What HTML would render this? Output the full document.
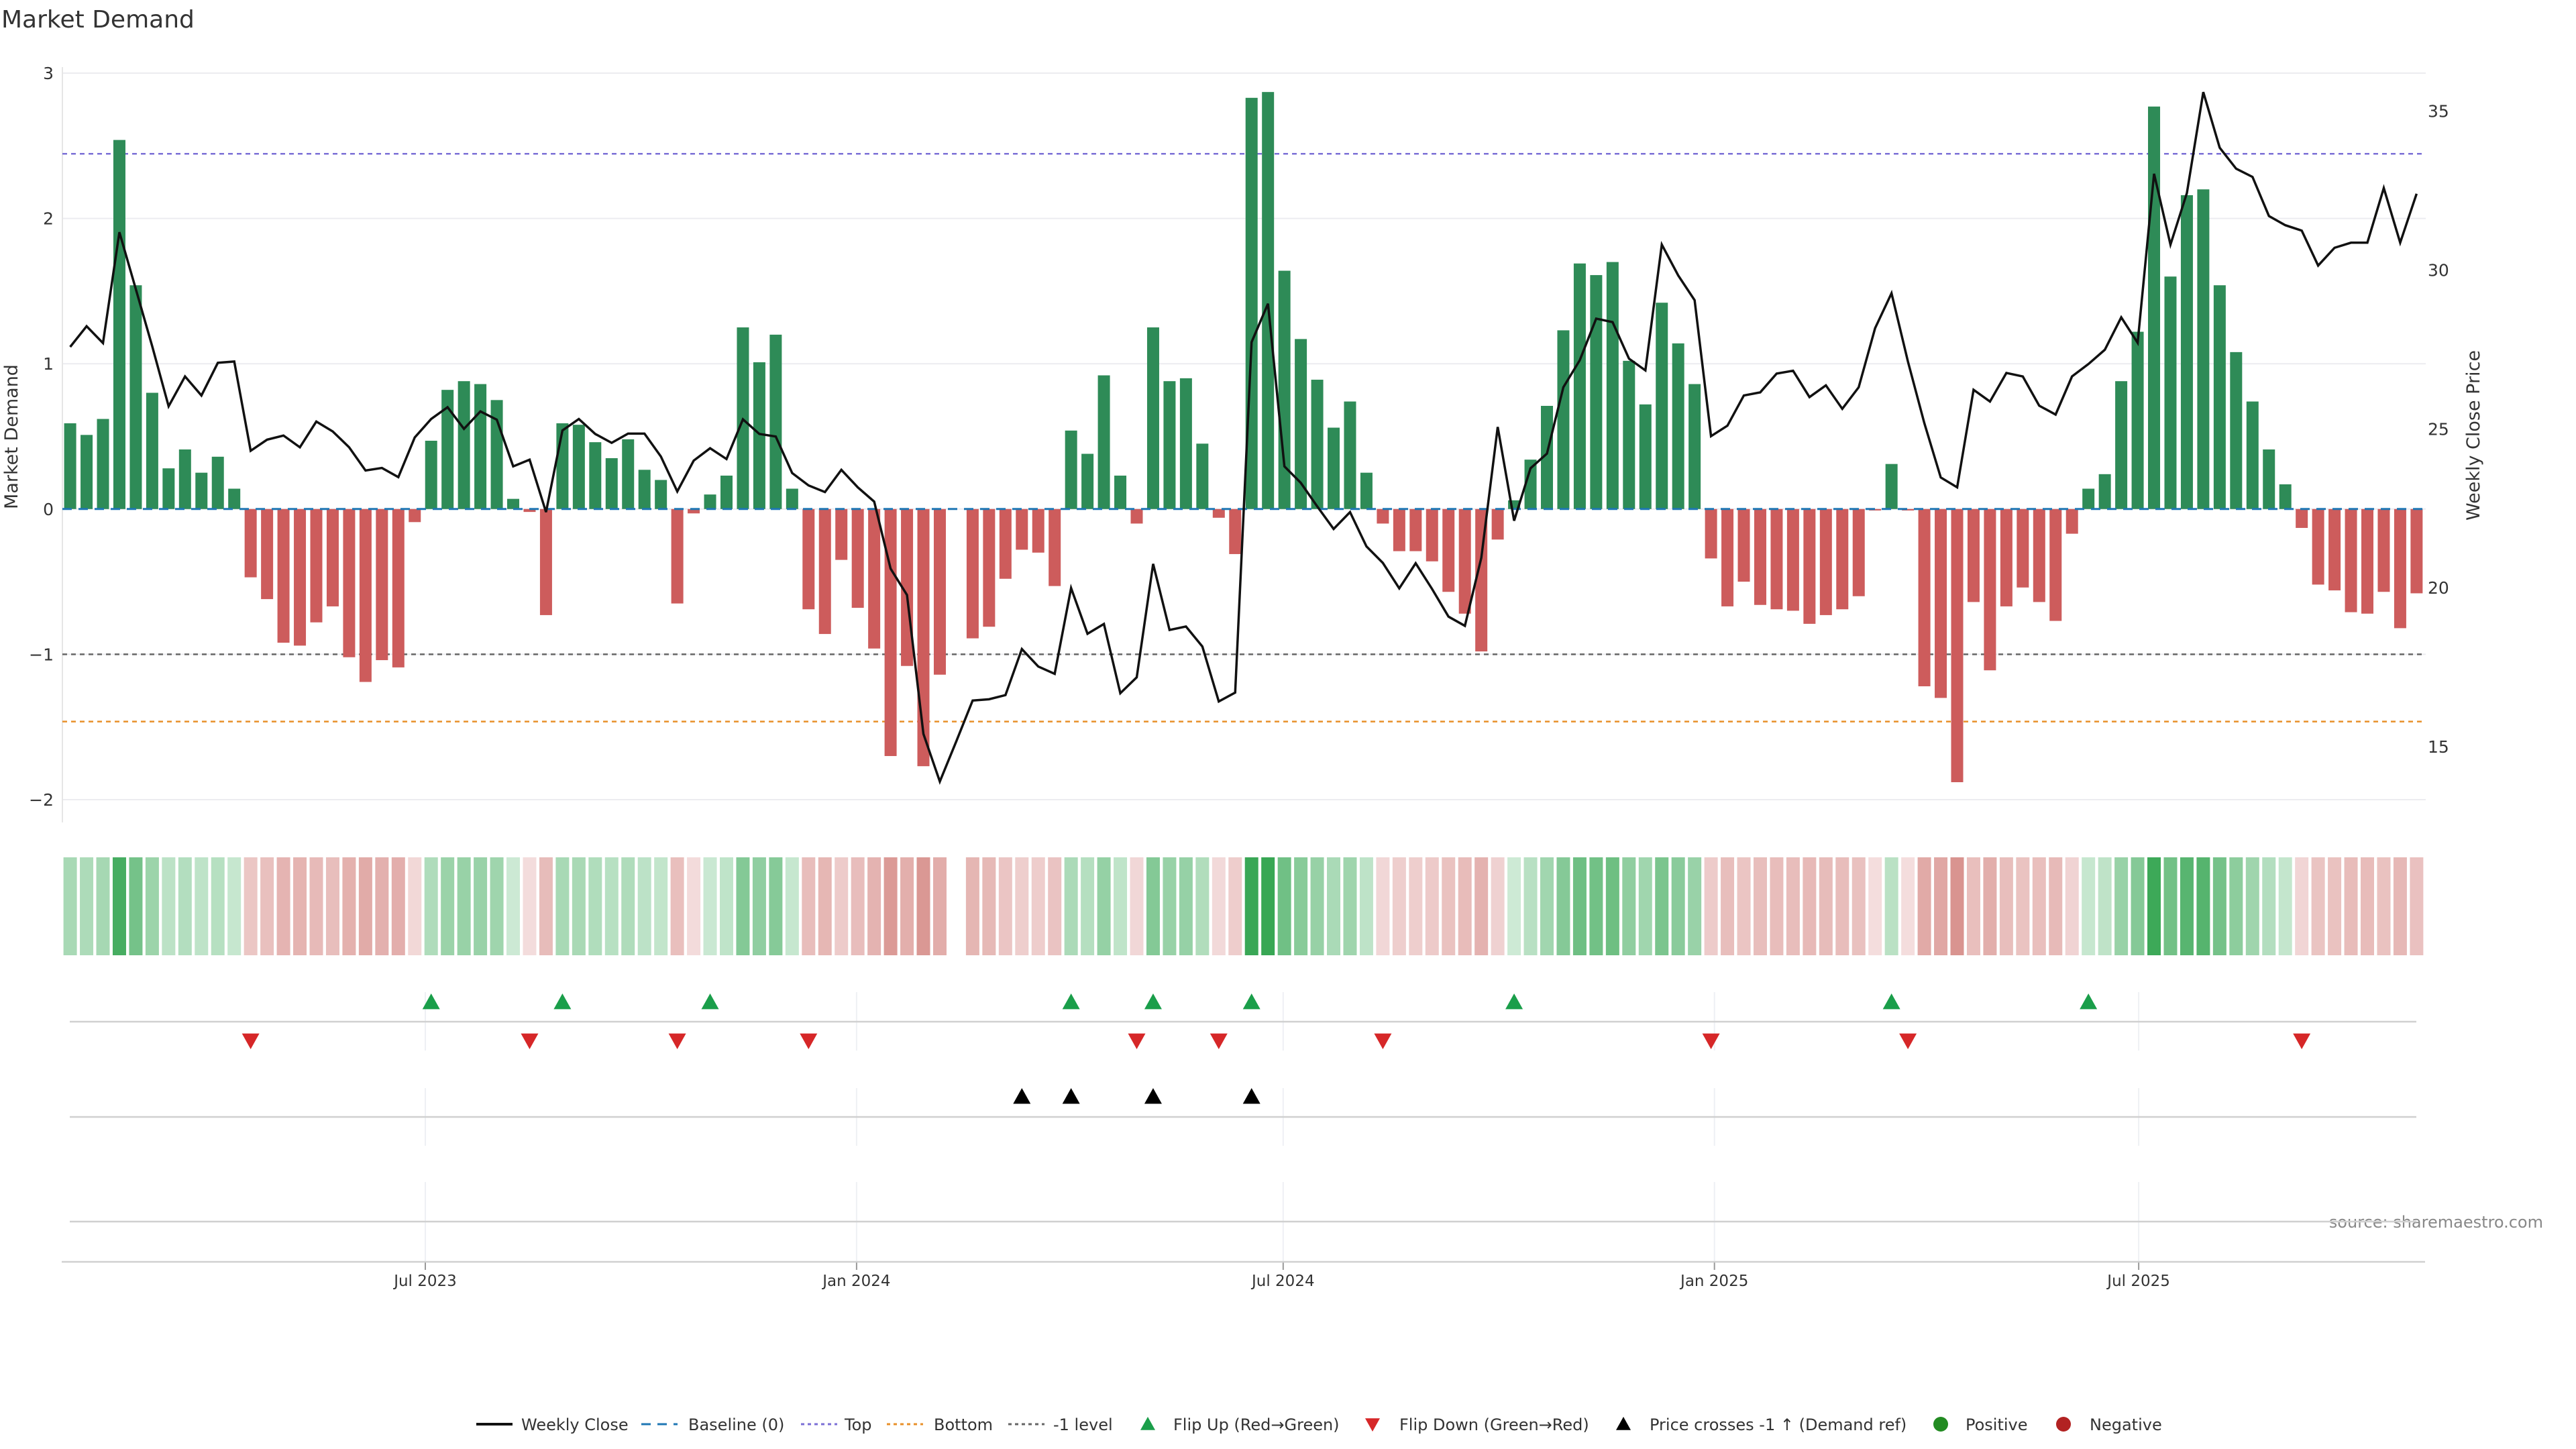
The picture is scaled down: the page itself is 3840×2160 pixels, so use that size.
<!DOCTYPE html>
<html><head><meta charset="utf-8"><style>
html,body{margin:0;padding:0;background:#fff;}
svg{display:block;font-family:"DejaVu Sans","Liberation Sans",sans-serif;}
</style></head><body>
<svg id="chart" width="3840" height="2160" viewBox="0 0 3840 2160" xmlns="http://www.w3.org/2000/svg">
<text x="2" y="41" font-size="36" fill="#333">Market Demand</text>
<text transform="translate(26,651) rotate(-90)" text-anchor="middle" font-size="27" fill="#333">Market Demand</text>
<text transform="translate(3696,649) rotate(-90)" text-anchor="middle" font-size="27" fill="#333">Weekly Close Price</text>
<text x="3791" y="1830" text-anchor="end" font-size="24" fill="#888">source: sharemaestro.com</text>
<g id="g"></g>
</svg>
<script>
const demand=[0.59,0.51,0.62,2.54,1.54,0.80,0.28,0.41,0.25,0.36,0.14,-0.47,-0.62,-0.92,-0.94,-0.78,-0.67,-1.02,-1.19,-1.04,-1.09,-0.09,0.47,0.82,0.88,0.86,0.75,0.07,-0.02,-0.73,0.59,0.58,0.46,0.35,0.48,0.27,0.20,-0.65,-0.03,0.10,0.23,1.25,1.01,1.20,0.14,-0.69,-0.86,-0.35,-0.68,-0.96,-1.70,-1.08,-1.77,-1.14,null,-0.89,-0.81,-0.48,-0.28,-0.30,-0.53,0.54,0.38,0.92,0.23,-0.10,1.25,0.88,0.90,0.45,-0.06,-0.31,2.83,2.87,1.64,1.17,0.89,0.56,0.74,0.25,-0.10,-0.29,-0.29,-0.36,-0.57,-0.72,-0.98,-0.21,0.06,0.34,0.71,1.23,1.69,1.61,1.70,1.02,0.72,1.42,1.14,0.86,-0.34,-0.67,-0.50,-0.66,-0.69,-0.70,-0.79,-0.73,-0.69,-0.60,-0.01,0.31,-0.01,-1.22,-1.30,-1.88,-0.64,-1.11,-0.67,-0.54,-0.64,-0.77,-0.17,0.14,0.24,0.88,1.22,2.77,1.60,2.16,2.20,1.54,1.08,0.74,0.41,0.17,-0.13,-0.52,-0.56,-0.71,-0.72,-0.57,-0.82,-0.58];
const price=[27.58,28.23,27.70,31.19,29.4,27.6,25.71,26.65,26.05,27.08,27.12,24.31,24.66,24.79,24.42,25.23,24.92,24.42,23.69,23.77,23.48,24.73,25.31,25.68,25.0,25.55,25.29,23.82,24.03,22.38,24.95,25.31,24.84,24.56,24.85,24.85,24.13,23.03,24.0,24.39,24.05,25.3,24.84,24.76,23.61,23.22,23.01,23.71,23.16,22.71,20.6,19.77,15.4,13.9,15.16,16.45,16.49,16.62,18.07,17.52,17.29,19.99,18.55,18.86,16.68,17.18,20.75,18.67,18.78,18.15,16.42,16.7,27.73,28.94,23.82,23.3,22.56,21.85,22.38,21.3,20.78,19.98,20.77,19.96,19.09,18.8,20.94,25.06,22.11,23.76,24.22,26.31,27.16,28.47,28.36,27.21,26.84,30.8,29.83,29.05,24.77,25.1,26.05,26.15,26.74,26.83,26.0,26.37,25.63,26.31,28.17,29.27,27.12,25.18,23.47,23.16,26.23,25.86,26.76,26.65,25.73,25.45,26.65,27.04,27.49,28.51,27.71,33.03,30.8,32.42,35.6,33.85,33.19,32.93,31.7,31.41,31.24,30.14,30.7,30.86,30.86,32.58,30.86,32.4];
const crossIdx=[58,61,66,72];
const leftTicks=[3,2,1,0,-1,-2];
const rightTicks=[35,30,25,20,15];
const dateTicks=["2023-07-01","2024-01-01","2024-07-01","2025-01-01","2025-07-01"];
const dateLabels=["Jul 2023","Jan 2024","Jul 2024","Jan 2025","Jul 2025"];
const refLevels=[2.445,-1,-1.463];
const refColors=["#7b6fd6","#666","#e8902a"];
const refNames=["top-line","minus-one-line","bottom-line"];

const NS="http://www.w3.org/2000/svg";
const G=document.getElementById('g');
function el(t,a,p){const e=document.createElementNS(NS,t);for(const k in a)e.setAttribute(k,a[k]);(p||G).appendChild(e);return e;}
const x0=104.6,step=24.46;
const xI=i=>x0+i*step;
const y=v=>758.8-v*216.6;
const yP=p=>165.7+(35-p)*47.36;
const xD=s=>634+(Date.parse(s)-Date.parse("2023-07-01"))/864e5*3.494;
const L=93,R=3616;

leftTicks.forEach(t=>{
 let g=el('line',{x1:L,x2:R,y1:y(t),y2:y(t),stroke:'#ececf0','stroke-width':2});
 
 let tx=el('text',{x:80,y:y(t)+9,'text-anchor':'end','font-size':25,fill:'#333'});
 tx.textContent=t<0?'\u2212'+(-t):String(t);
 
});
let sp=el('line',{x1:L,x2:L,y1:100,y2:1226,stroke:'#e6e6e6','stroke-width':2});

rightTicks.forEach(t=>{
 let tx=el('text',{x:3619,y:yP(t)+9,'font-size':25,fill:'#333'});
 tx.textContent=t;
 
});
refLevels.forEach((v,k)=>{
 let l=el('line',{x1:L,x2:3612,y1:y(v),y2:y(v),stroke:refColors[k],'stroke-width':2.5,'stroke-dasharray':'7,6'});
 
});
demand.forEach((v,i)=>{
 if(v===null)return;
 const top=Math.min(y(v),y(0)),h=Math.max(Math.abs(y(v)-y(0)),1);
 let b=el('rect',{x:xI(i)-9,y:top,width:18,height:h,fill:v>=0?'#2e8b57':'#cd5c5c'});
 
});
let bl=el('line',{x1:L,x2:3612,y1:y(0),y2:y(0),stroke:'#1f77b4','stroke-width':3,'stroke-dasharray':'14,10'});

let pl=el('polyline',{points:price.map((p,i)=>xI(i)+','+yP(p)).join(' '),fill:'none',stroke:'#111','stroke-width':3.5,'stroke-linejoin':'miter'});

function mix(a,b,t){return 'rgb('+a.map((c,k)=>Math.round(c+(b[k]-c)*t)).join(',')+')';}
demand.forEach((v,i)=>{
 if(v===null)return;
 const t=Math.min(Math.abs(v)/2.9,1);
 const c=v>=0?mix([212,237,219],[55,166,83],Math.pow(t,0.8)):mix([244,222,222],[206,118,112],Math.pow(t,0.8));
 let r=el('rect',{x:xI(i)-10,y:1278,width:20,height:146,fill:c});
 
});
dateTicks.forEach((d,k)=>{
 const xx=xD(d);
 [[1479,1566],[1622,1708],[1762,1880]].forEach(s=>{
  let v=el('line',{x1:xx,x2:xx,y1:s[0],y2:s[1],stroke:'#eef0f4','stroke-width':2});
  
 });
 let tk=el('line',{x1:xx,x2:xx,y1:1881,y2:1893,stroke:'#999','stroke-width':2});
 
 let tx=el('text',{x:xx,y:1917,'text-anchor':'middle','font-size':23,fill:'#333'});
 tx.textContent=dateLabels[k];
 
});
[1523,1665,1821].forEach(yy=>{
 let l=el('line',{x1:104,x2:3602,y1:yy,y2:yy,stroke:'#d0d0d0','stroke-width':2.5});
 
});
let ax=el('line',{x1:92,x2:3615,y1:1881,y2:1881,stroke:'#d0d0d0','stroke-width':2.5});

function tri(cx,cy,up,col,name){
 const s=13;
 const pts=up?[cx,cy-s,cx-s,cy+s*0.8,cx+s,cy+s*0.8]:[cx,cy+s,cx-s,cy-s*0.8,cx+s,cy-s*0.8];
 let p=el('polygon',{points:pts.join(','),fill:col});
 
}
let prev=null;
demand.forEach((v,i)=>{
 if(v===null)return;
 const s=v>=0;
 if(prev!==null&&s!==prev){ if(s)tri(xI(i),1494,true,'#1a9e4a','flip-up-marker'); else tri(xI(i),1551,false,'#d62728','flip-down-marker'); }
 prev=s;
});
crossIdx.forEach(i=>tri(xI(i),1635,true,'#000','price-cross-marker'));
const LG=el('g',{});

function lt(x,t){let e=el('text',{x:x,y:2132,'font-size':24,fill:'#333'},LG);e.textContent=t;}
function ll(x,col,dash,name){let e=el('line',{x1:x,x2:x+54,y1:2123,y2:2123,stroke:col,'stroke-width':dash?3:4,'stroke-dasharray':dash||'none'},LG);}
ll(710,'#111',null,'legend-weekly-close');lt(777,'Weekly Close');
ll(956,'#1f77b4','14,10','legend-baseline');lt(1026,'Baseline (0)');
ll(1194,'#7b6fd6','5,5','legend-top');lt(1259,'Top');
ll(1322,'#e8902a','5,5','legend-bottom');lt(1392,'Bottom');
ll(1503,'#666','5,5','legend-minus-one');lt(1570,'-1 level');
function lg(x,up,col,name){const s=11,cy=2123;const pts=up?[x,cy-s,x-s,cy+s*0.8,x+s,cy+s*0.8]:[x,cy+s,x-s,cy-s*0.8,x+s,cy-s*0.8];let p=el('polygon',{points:pts.join(','),fill:col},LG);}
lg(1711,true,'#1a9e4a','legend-flip-up');lt(1749,'Flip Up (Red\u2192Green)');
lg(2046,false,'#d62728','legend-flip-down');lt(2086,'Flip Down (Green\u2192Red)');
lg(2420,true,'#000','legend-price-cross');lt(2459,'Price crosses -1 \u2191 (Demand ref)');
let c1=el('circle',{cx:2893,cy:2123,r:11,fill:'#228b22'},LG);lt(2930,'Positive');
let c2=el('circle',{cx:3076,cy:2123,r:11,fill:'#b22222'},LG);lt(3115,'Negative');
</script>
</body></html>
